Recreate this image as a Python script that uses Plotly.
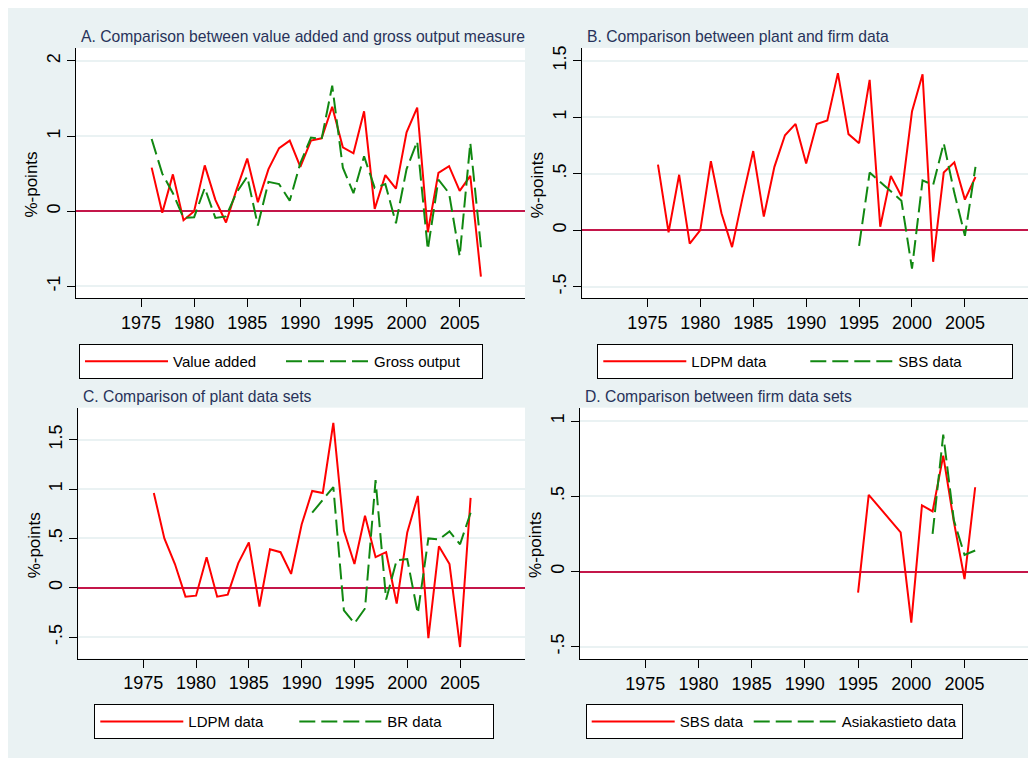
import plotly.graph_objects as go

# The page body has an 8px margin, so the figure is drawn 8px in from the top-left.
OFF = 8
W, H = 1036 - OFF, 758 - OFF

# ---------------- data ----------------
years_a = list(range(1976, 2008))
value_added = [0.58, -0.02, 0.49, -0.12, 0.00, 0.61, 0.15, -0.15, 0.29, 0.70, 0.12, 0.56,
               0.84, 0.94, 0.59, 0.94, 0.97, 1.39, 0.85, 0.77, 1.33, 0.03, 0.48, 0.30,
               1.05, 1.38, -0.28, 0.51, 0.60, 0.27, 0.47, -0.87]
gross_output = [0.96, 0.50, 0.24, -0.09, -0.08, 0.31, -0.09, -0.07, 0.25, 0.46, -0.19, 0.39,
                0.36, 0.14, 0.64, 0.98, 0.96, 1.67, 0.58, 0.24, 0.73, 0.31, 0.36, -0.16,
                0.56, 0.93, -0.51, 0.42, 0.24, -0.60, 0.91, -0.48]

years_ldpm = list(range(1976, 2007))
ldpm_va = [0.58, -0.02, 0.49, -0.12, 0.00, 0.61, 0.15, -0.15, 0.29, 0.70, 0.12, 0.56,
           0.84, 0.94, 0.59, 0.94, 0.97, 1.39, 0.85, 0.77, 1.33, 0.03, 0.48, 0.30,
           1.05, 1.38, -0.28, 0.51, 0.60, 0.27, 0.47]
ldpm_go = [0.96, 0.50, 0.24, -0.09, -0.08, 0.31, -0.09, -0.07, 0.25, 0.46, -0.19, 0.39,
           0.36, 0.14, 0.64, 0.98, 0.96, 1.67, 0.58, 0.24, 0.73, 0.31, 0.36, -0.16,
           0.56, 0.93, -0.51, 0.42, 0.24, -0.60, 0.91]

years_sbs = list(range(1995, 2007))
sbs_data = [-0.14, 0.51, None, None, 0.26, -0.34, 0.44, 0.40, 0.77, 0.33, -0.05, 0.56]

years_br = list(range(1991, 2007))
br_data = [0.76, 0.89, 1.02, -0.23, -0.36, -0.21, 1.09, -0.12, 0.28, 0.29, -0.26, 0.50,
           0.49, 0.57, 0.44, 0.76]

years_asia = list(range(2002, 2007))
asia_data = [0.25, 0.91, 0.34, 0.11, 0.14]

x_ticks = [1975, 1980, 1985, 1990, 1995, 2000, 2005]
yticks_a = [-1, 0, 1, 2]
ylabels_a = ["-1", "0", "1", "2"]
yticks_bc = [-0.5, 0, 0.5, 1, 1.5]
ylabels_bc = ["-.5", "0", ".5", "1", "1.5"]
yticks_d = [-0.5, 0, 0.5, 1]
ylabels_d = ["-.5", "0", ".5", "1"]

titles = ["A. Comparison between value added and gross output measure",
          "B. Comparison between plant and firm data",
          "C. Comparison of plant data sets",
          "D. Comparison between firm data sets"]

# ---------------- style ----------------
FONT = "Liberation Sans, Arial, sans-serif"
RED = "#FF0000"
GREEN = "#118811"
ZERO = "#C4164A"
BG = "#EAF2F3"
TITLE_C = "#28325A"
DASH = "16px,6px"


def px(x):
    return (x - OFF) / W


def py(y):
    return 1 - (y - OFF) / H


# panel geometry (screen pixels): left, right, top, bottom of plot area
panels = {
    1: dict(l=75.7, r=525, t=46, b=296.7, yr=[-1.155, 2.174], tv=yticks_a, tt=ylabels_a),
    2: dict(l=582.3, r=1030, t=46, b=296.7, yr=[-0.600, 1.613], tv=yticks_bc, tt=ylabels_bc),
    3: dict(l=78.3, r=525, t=406.7, b=658.3, yr=[-0.717, 1.824], tv=yticks_bc, tt=ylabels_bc),
    4: dict(l=579.7, r=1030, t=406.7, b=658.7, yr=[-0.581, 1.089], tv=yticks_d, tt=ylabels_d),
}

fig = go.Figure()


def add_line(k, x, y, name, color, dash, legend):
    fig.add_trace(go.Scatter(
        x=x, y=y, mode="lines", name=name, connectgaps=True,
        line=dict(color=color, width=2, dash=dash),
        xaxis="x" if k == 1 else f"x{k}", yaxis="y" if k == 1 else f"y{k}",
        legend=legend, hoverinfo="x+y"))


add_line(1, years_a, value_added, "Value added", RED, "solid", "legend")
add_line(1, years_a, gross_output, "Gross output", GREEN, DASH, "legend")
add_line(2, years_ldpm, ldpm_va, "LDPM data", RED, "solid", "legend2")
add_line(2, years_sbs, sbs_data, "SBS data", GREEN, DASH, "legend2")
add_line(3, years_ldpm, ldpm_go, "LDPM data", RED, "solid", "legend3")
add_line(3, years_br, br_data, "BR data", GREEN, DASH, "legend3")
add_line(4, years_sbs, sbs_data, "SBS data", RED, "solid", "legend4")
add_line(4, years_asia, asia_data, "Asiakastieto data", GREEN, DASH, "legend4")

layout = dict(
    width=W, height=H, autosize=False,
    margin=dict(l=0, r=0, t=0, b=0),
    paper_bgcolor=BG, plot_bgcolor="white",
    font=dict(family=FONT, size=17, color="black"),
    showlegend=True,
)

annotations = []

legend_geo = {
    1: dict(x=79, y=343, ew=103),
    2: dict(x=597.3, y=343, ew=109),
    3: dict(x=94.3, y=704, ew=101),
    4: dict(x=585.7, y=704, ew=None),
}

for k, p in panels.items():
    xs = "" if k == 1 else str(k)
    layout[f"xaxis{xs}"] = dict(
        domain=[px(p["l"]), px(p["r"])], range=[1968.85, 2011.15],
        anchor=f"y{xs}", tickmode="array", tickvals=x_ticks,
        ticktext=[str(v) for v in x_ticks],
        showline=True, linecolor="black", linewidth=1,
        ticks="outside", ticklen=8, tickcolor="black", tickwidth=1,
        showgrid=False, zeroline=False, tickfont=dict(size=18, color="black"),
        fixedrange=True)
    layout[f"yaxis{xs}"] = dict(
        domain=[py(p["b"]), py(p["t"])], range=p["yr"],
        anchor=f"x{xs}", tickmode="array", tickvals=p["tv"], ticktext=p["tt"],
        tickangle=-90, showline=True, linecolor="black", linewidth=1,
        ticks="outside", ticklen=8, tickcolor="black", tickwidth=1,
        showgrid=True, gridcolor=BG, gridwidth=1.5,
        zeroline=True, zerolinecolor=ZERO, zerolinewidth=2,
        tickfont=dict(size=18, color="black"), fixedrange=True)
    # panel title
    annotations.append(dict(
        text=titles[k - 1], xref="paper", yref="paper",
        x=px(p["l"] + 3), y=py(p["t"] - 11), xanchor="left", yanchor="middle",
        showarrow=False, font=dict(size=15.7, color=TITLE_C, family=FONT)))
    # y-axis title
    annotations.append(dict(
        text="%-points", xref="paper", yref="paper", textangle=-90,
        x=px(p["l"] - 44), y=py((p["t"] + p["b"]) / 2 + 12),
        xanchor="center", yanchor="middle", showarrow=False,
        font=dict(size=17, color="black", family=FONT)))
    lg = legend_geo[k]
    lname = "legend" if k == 1 else f"legend{k}"
    leg = dict(
        x=px(lg["x"]), y=py(lg["y"]), xanchor="left", yanchor="top",
        orientation="h", bgcolor="white", bordercolor="black", borderwidth=1,
        font=dict(size=15, color="black", family=FONT),
        itemwidth=83, traceorder="normal")
    if lg["ew"] is not None:
        leg.update(entrywidth=lg["ew"], entrywidthmode="pixels")
    layout[lname] = leg

layout["annotations"] = annotations
fig.update_layout(**layout)

fig.write_html("out.html", config={"displayModeBar": False})
